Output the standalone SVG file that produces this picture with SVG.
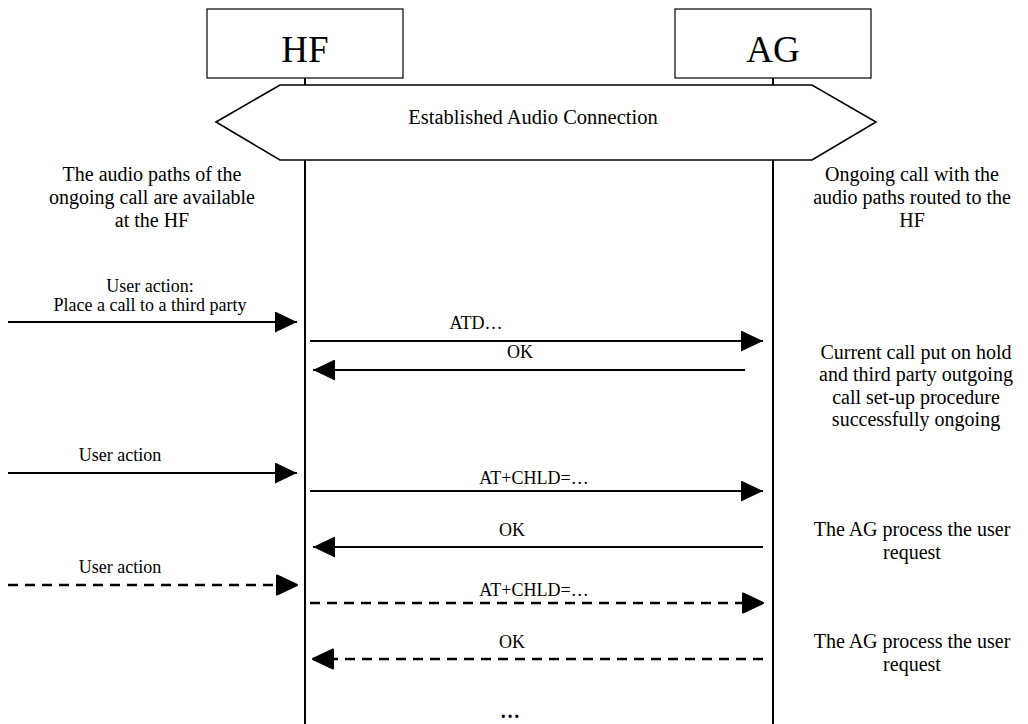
<svg xmlns="http://www.w3.org/2000/svg" width="1028" height="724" viewBox="0 0 1028 724">
  <defs>
    <marker id="arrow" markerUnits="userSpaceOnUse" markerWidth="22" markerHeight="21" viewBox="0 0 22 21" refX="22" refY="10.5" orient="auto">
      <path d="M0,0 L22,10.5 L0,21 Z" fill="#000"/>
    </marker>
    <marker id="arrowDash" markerUnits="userSpaceOnUse" markerWidth="24" markerHeight="23" viewBox="-1 -1 24 23" refX="21" refY="10.5" orient="auto">
      <path d="M1,1 L21,10.5 L1,20 Z" fill="#000" stroke="#000" stroke-width="2" stroke-linejoin="round"/>
    </marker>
  </defs>
  <style>
    .box { fill: #fff; stroke: #000; stroke-width: 1.2; }
    .life { stroke: #000; stroke-width: 2; fill: none; }
    .hex { fill: #fff; stroke: #000; stroke-width: 1.6; }
    .msg { stroke: #000; stroke-width: 2.2; fill: none; marker-end: url(#arrow); }
    .dash { stroke-width: 2.6; stroke-dasharray: 10 7; marker-end: url(#arrowDash); }
    text { font-family: "Liberation Serif", "Times New Roman", serif; fill: #000; }
    .title { font-size: 37px; text-anchor: middle; }
    .note { font-size: 20px; text-anchor: middle; }
    .lbl { font-size: 18px; text-anchor: middle; }
  </style>

  <rect width="1028" height="724" fill="#fff"/>

  <!-- lifelines -->
  <g id="lifelines">
    <path class="life" d="M305,78 V85 M305,160 V724"/>
    <path class="life" d="M773,78 V85 M773,160 V724"/>
  </g>

  <!-- participants -->
  <g id="node-hf">
    <rect class="box" x="207" y="9" width="196" height="69"/>
    <text class="title" x="305" y="62">HF</text>
  </g>
  <g id="node-ag">
    <rect class="box" x="675" y="9" width="196" height="69"/>
    <text class="title" x="773" y="62">AG</text>
  </g>

  <!-- shared state -->
  <g id="node-audio-connection">
    <polygon class="hex" points="216,122 280,85 812,85 876,122 812,160 280,160"/>
    <text class="note" x="533" y="124" style="font-size:20.5px">Established Audio Connection</text>
  </g>

  <g id="note-hf-state">
    <text class="note" x="152" y="181">The audio paths of the</text>
    <text class="note" x="152" y="204">ongoing call are available</text>
    <text class="note" x="152" y="227">at the HF</text>
  </g>
  <g id="note-ag-state">
    <text class="note" x="912" y="181">Ongoing call with the</text>
    <text class="note" x="912" y="204">audio paths routed to the</text>
    <text class="note" x="912" y="227">HF</text>
  </g>

  <!-- message connectors -->
  <g id="connectors">
    <path class="msg" d="M8,322 H297"/>
    <path class="msg" d="M310,341 H763"/>
    <path class="msg" d="M745,370 H313"/>

    <path class="msg" d="M8,473 H297"/>
    <path class="msg" d="M310,491 H763"/>
    <path class="msg" d="M763,547 H313"/>

    <path class="msg dash" d="M8,585 H297"/>
    <path class="msg dash" d="M310,603 H763"/>
    <path class="msg dash" d="M763,659 H313"/>
  </g>

  <!-- message labels -->
  <g id="labels">
    <text class="lbl" x="150" y="292">User action:</text>
    <text class="lbl" x="150" y="311">Place a call to a third party</text>
    <text class="lbl" x="476" y="329">ATD…</text>
    <text class="lbl" x="520" y="358">OK</text>

    <text class="lbl" x="120" y="461">User action</text>
    <text class="lbl" x="534" y="484">AT+CHLD=…</text>
    <text class="lbl" x="512" y="536">OK</text>

    <text class="lbl" x="120" y="573">User action</text>
    <text class="lbl" x="534" y="596">AT+CHLD=…</text>
    <text class="lbl" x="512" y="648">OK</text>
  </g>

  <g id="note-hold">
    <text class="note" x="916" y="359">Current call put on hold</text>
    <text class="note" x="916" y="381">and third party outgoing</text>
    <text class="note" x="916" y="404">call set-up procedure</text>
    <text class="note" x="916" y="426">successfully ongoing</text>
  </g>
  <g id="note-process-1">
    <text class="note" x="912" y="536">The AG process the user</text>
    <text class="note" x="912" y="559">request</text>
  </g>
  <g id="note-process-2">
    <text class="note" x="912" y="648">The AG process the user</text>
    <text class="note" x="912" y="671">request</text>
  </g>

  <text x="510" y="718" font-size="20" font-weight="bold" text-anchor="middle" font-family="Liberation Serif, serif">…</text>
</svg>
